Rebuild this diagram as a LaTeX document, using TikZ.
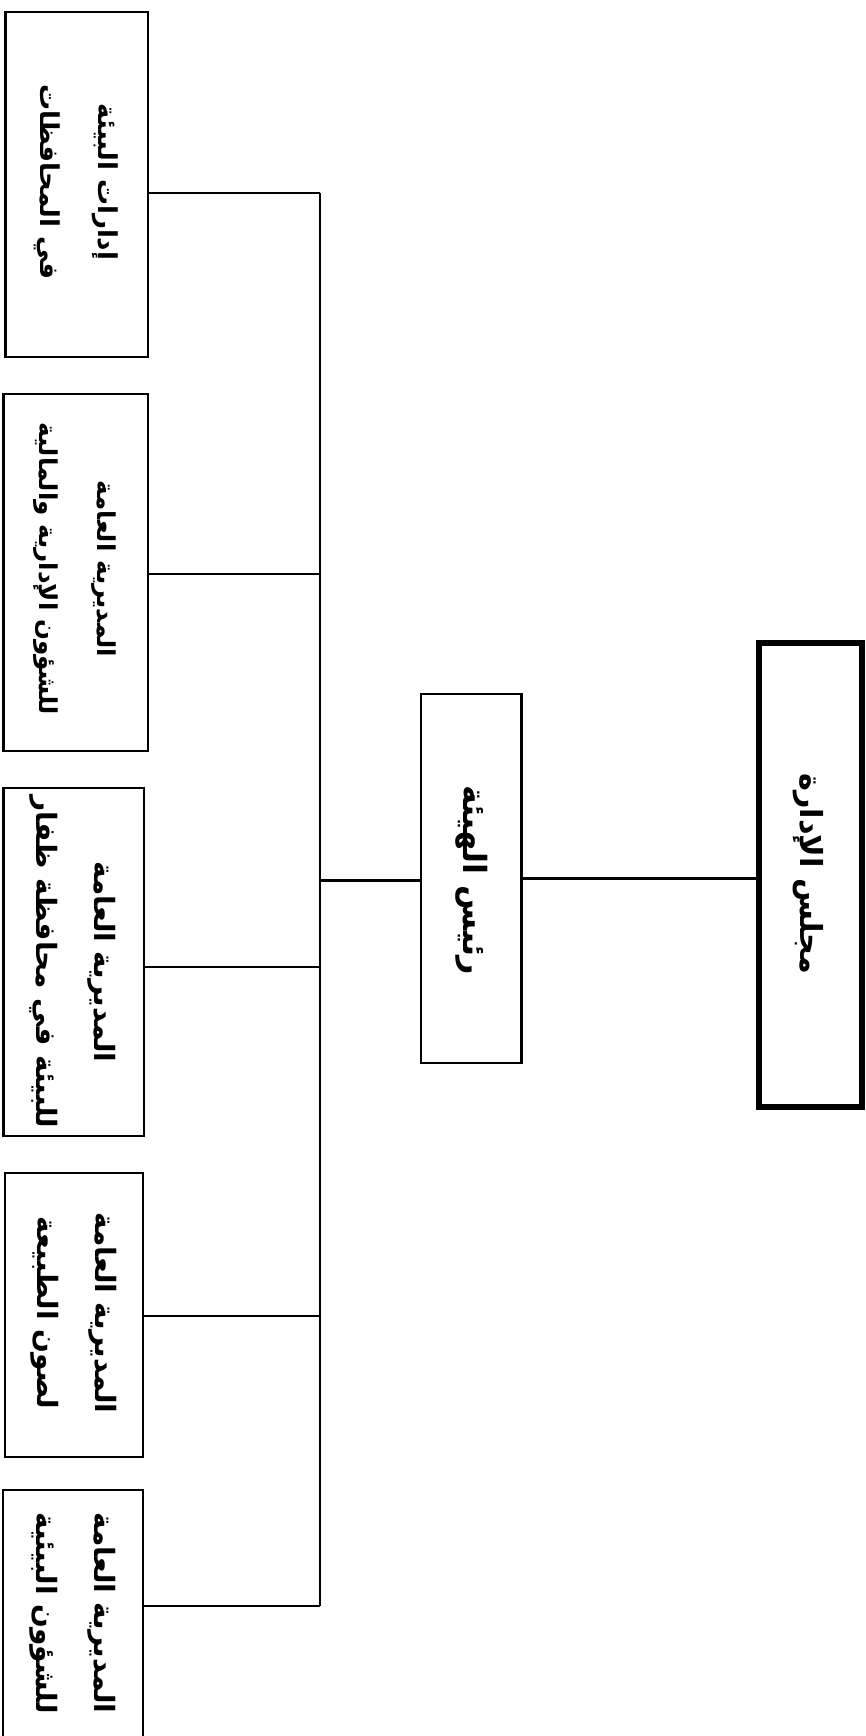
\documentclass[tikz,border=0pt]{standalone}
\usepackage{fontspec}
\newfontfamily\arabicfont[Script=Arabic]{DejaVu Sans}
\TeXXeTstate=1
\begin{document}
\begin{tikzpicture}[x=0.5pt,y=-0.5pt,
  box/.style={draw=black,line width=1.25pt,fill=white,inner sep=0pt,outer sep=0pt},
  bigbox/.style={draw=black,line width=3pt,fill=white,inner sep=0pt,outer sep=0pt},
  txt/.style={rotate=-90,align=center,inner sep=0pt,font=\arabicfont\bfseries\fontsize{14}{29}\selectfont},
  smalltxt/.style={txt,font=\arabicfont\bfseries\fontsize{12.3}{29}\selectfont},
  midtxt/.style={txt,font=\arabicfont\bfseries\fontsize{13}{29}\selectfont},
  bigtxt/.style={rotate=-90,align=center,inner sep=0pt,font=\arabicfont\bfseries\fontsize{16}{30}\selectfont},
  hugetxt/.style={rotate=-90,align=center,inner sep=0pt,font=\arabicfont\bfseries\fontsize{15.2}{30}\selectfont},
  conn/.style={draw=black,line width=1pt},
  mainline/.style={draw=black,line width=1.5pt}]
\fill[white] (0,0) rectangle (866,1736);
\useasboundingbox (0,0) rectangle (866,1736);
% boxes
\node[box,minimum width=71.25pt,minimum height=172.5pt] (b1) at (76.75,184.5) {};
\node[box,minimum width=72.35pt,minimum height=178.5pt] (b2) at (75.65,572.5) {};
\node[box,minimum width=70.35pt,minimum height=174pt] (b3) at (73.65,962) {};
\node[box,minimum width=69pt,minimum height=142pt] (b4) at (74,1315) {};
\node[box,minimum width=70pt,minimum height=125pt] (b5) at (73,1615) {};
\node[box,minimum width=50.3pt,minimum height=184.5pt] (rais) at (471.3,878.5) {};
\node[bigbox,minimum width=51.5pt,minimum height=232.25pt] (majlis) at (810.5,874.75) {};
% texts
\node[midtxt] (t1) at (76,182) {\beginR إدارات البيئة\endR\\\beginR في المحافظات\endR};
\node[smalltxt] (t2) at (75,569) {\beginR المديرية العامة\endR\\\beginR للشؤون الإدارية والمالية\endR};
\node[txt] (t3) at (73,962) {\beginR المديرية العامة\endR\\\beginR للبيئة في محافظة ظفار\endR};
\node[txt] (t4) at (74,1313) {\beginR المديرية العامة\endR\\\beginR لصون الطبيعة\endR};
\node[txt] (t5) at (73,1613) {\beginR المديرية العامة\endR\\\beginR للشؤون البيئية\endR};
\node[bigtxt] (t6) at (472,880) {\beginR رئيس الهيئة\endR};
\node[hugetxt] (t7) at (808,874) {\beginR مجلس الإدارة\endR};
% bus
\coordinate (j1) at (320,192.7);
\coordinate (j2) at (320,573.6);
\coordinate (j3) at (320,966.8);
\coordinate (j4) at (320,1315.6);
\coordinate (j5) at (320,1605.8);
\coordinate (jm) at (320,880);
\coordinate (jr) at (640,878);
\draw[conn] (j1) -- (j5);
\draw[conn] (j1 -| b1.east) -- (j1);
\draw[conn] (j2 -| b2.east) -- (j2);
\draw[conn] (j3 -| b3.east) -- (j3);
\draw[conn] (j4 -| b4.east) -- (j4);
\draw[conn] (j5 -| b5.east) -- (j5);
\draw[mainline] (jm) -- (jm -| rais.west);
\draw[mainline] (jr -| rais.east) -- (jr -| majlis.west);
\end{tikzpicture}
\end{document}
